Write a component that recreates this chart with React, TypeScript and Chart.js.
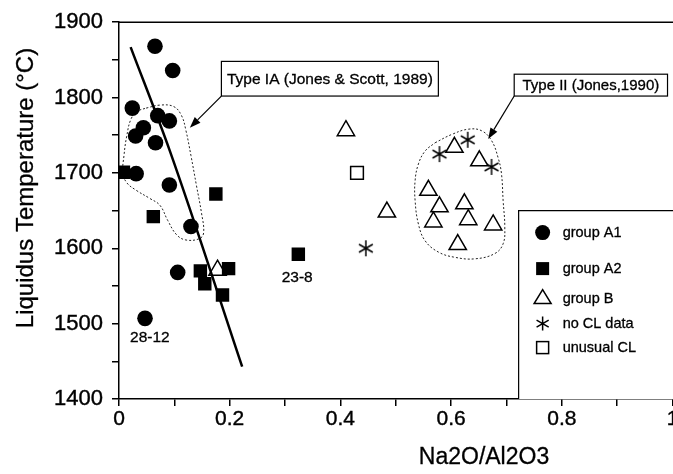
import React, { useEffect, useRef } from 'react';
import { Chart, registerables } from 'chart.js';

Chart.register(...registerables);

// ---- data ----
const a1X = [0.065, 0.097, 0.024, 0.070, 0.091, 0.044, 0.030, 0.066, 0.031, 0.091, 0.130, 0.106, 0.047];
const a1Y = [1868, 1836, 1786, 1776, 1769, 1760, 1749, 1740, 1699, 1684, 1629, 1568, 1507];

const a2X = [0.008, 0.175, 0.062, 0.147, 0.155, 0.198, 0.187, 0.324];
const a2Y = [1701, 1672, 1642, 1570, 1553, 1573, 1538, 1592];

const bX = [0.178, 0.410, 0.484, 0.606, 0.651, 0.559, 0.579, 0.624, 0.568, 0.631, 0.676, 0.612];
const bY = [1571, 1756, 1648, 1734, 1716, 1677, 1655, 1659, 1635, 1638, 1631, 1605];

const noClX = [0.446, 0.579, 0.630, 0.673];
const noClY = [1600, 1725, 1744, 1708];

const unusualX = [0.43];
const unusualY = [1700];

const trendX = [0.021, 0.092, 0.2225];
const trendY = [1867, 1729, 1443];

const typeIAX = [0.049, 0.074, 0.099, 0.113, 0.121, 0.130, 0.140, 0.149, 0.153, 0.146, 0.121, 0.104, 0.088, 0.074, 0.056, 0.031, 0.014, 0.007, 0.009, 0.014, 0.022, 0.034, 0.049];
const typeIAY = [1786, 1790, 1788, 1776, 1756, 1723, 1683, 1647, 1621, 1613, 1611, 1618, 1637, 1657, 1666, 1677, 1687, 1700, 1723, 1749, 1772, 1782, 1786];

const typeIIX = [0.571, 0.601, 0.631, 0.655, 0.673, 0.685, 0.691, 0.694, 0.697, 0.694, 0.679, 0.643, 0.607, 0.577, 0.553, 0.541, 0.535, 0.535, 0.541, 0.553, 0.571];
const typeIIY = [1740, 1751, 1758, 1756, 1743, 1720, 1699, 1663, 1628, 1606, 1593, 1586, 1588, 1595, 1610, 1632, 1663, 1690, 1712, 1729, 1740];

const legendLabels = ['group A1', 'group A2', 'group B', 'no CL data', 'unusual CL'];

const pointLabels = ['28-12', '23-8'];
const pointLabelX = [0.0558, 0.322];
const pointLabelY = [1481, 1561];

const annoTexts = ['Type IA (Jones & Scott, 1989)', 'Type II (Jones,1990)'];

const xTitle = 'Na2O/Al2O3';
const yTitle = 'Liquidus Temperature (°C)';

const FONT = '"Liberation Sans", Arial, Helvetica, sans-serif';

const zip = (xs: number[], ys: number[]) => xs.map((x, i) => ({ x, y: ys[i] }));

function drawAsterisk(ctx: CanvasRenderingContext2D, cx: number, cy: number, r: number) {
  ctx.save();
  ctx.strokeStyle = '#000';
  ctx.lineWidth = 1.5;
  ctx.beginPath();
  for (const deg of [90, 30, 150]) {
    const a = (deg * Math.PI) / 180;
    ctx.moveTo(cx - r * Math.cos(a), cy - r * Math.sin(a));
    ctx.lineTo(cx + r * Math.cos(a), cy + r * Math.sin(a));
  }
  ctx.stroke();
  ctx.restore();
}

function makeAsteriskImage() {
  const c = document.createElement('canvas');
  c.width = 20;
  c.height = 20;
  const g = c.getContext('2d')!;
  drawAsterisk(g, 10, 10, 8);
  return c;
}

function drawArrow(ctx: CanvasRenderingContext2D, x1: number, y1: number, x2: number, y2: number) {
  const ang = Math.atan2(y2 - y1, x2 - x1);
  const L = 11, W = 4;
  ctx.beginPath();
  ctx.moveTo(x1, y1);
  ctx.lineTo(x2 - L * Math.cos(ang), y2 - L * Math.sin(ang));
  ctx.stroke();
  ctx.beginPath();
  ctx.moveTo(x2, y2);
  ctx.lineTo(x2 - L * Math.cos(ang) + W * Math.sin(ang), y2 - L * Math.sin(ang) - W * Math.cos(ang));
  ctx.lineTo(x2 - L * Math.cos(ang) - W * Math.sin(ang), y2 - L * Math.sin(ang) + W * Math.cos(ang));
  ctx.closePath();
  ctx.fill();
}

function boldText(ctx: CanvasRenderingContext2D, s: string, x: number, y: number, w = 0.4) {
  ctx.fillText(s, x, y);
  ctx.save();
  ctx.lineWidth = w;
  ctx.strokeStyle = '#000';
  ctx.strokeText(s, x, y);
  ctx.restore();
}

const overlay = {
  id: 'overlay',
  afterDatasetsDraw(chart: any) {
    const { ctx, chartArea, scales } = chart;
    const xs = scales.x, ys = scales.y;
    const px = (v: number) => xs.getPixelForValue(v);
    const py = (v: number) => ys.getPixelForValue(v);
    ctx.save();
    ctx.strokeStyle = '#000';
    ctx.fillStyle = '#000';
    ctx.lineWidth = 1.5;

    // top frame line
    ctx.beginPath();
    ctx.moveTo(chartArea.left, chartArea.top);
    ctx.lineTo(chart.width, chartArea.top);
    ctx.stroke();

    // annotation boxes
    ctx.lineWidth = 1.2;
    ctx.font = `15.5px ${FONT}`;
    ctx.textBaseline = 'middle';
    ctx.textAlign = 'center';
    // Type IA
    {
      const l = px(0.185), r = px(0.577), t = py(1848), b = py(1802);
      ctx.fillStyle = '#fff';
      ctx.fillRect(l, t, r - l, b - t);
      ctx.fillStyle = '#000';
      ctx.strokeRect(l, t, r - l, b - t);
      boldText(ctx, annoTexts[0], (l + r) / 2, (t + b) / 2 + 1, 0.3);
      drawArrow(ctx, l, b, px(0.128), py(1760));
    }
    // Type II
    {
      const l = px(0.714), r = px(0.991), t = py(1831), b = py(1802);
      ctx.fillStyle = '#fff';
      ctx.fillRect(l, t, r - l, b - t);
      ctx.fillStyle = '#000';
      ctx.strokeRect(l, t, r - l, b - t);
      ctx.font = `15px ${FONT}`;
      boldText(ctx, annoTexts[1], (l + r) / 2, (t + b) / 2 + 1, 0.3);
      drawArrow(ctx, l, b, px(0.667), py(1745));
    }

    // point labels
    ctx.font = `15.5px ${FONT}`;
    pointLabels.forEach((s, i) => boldText(ctx, s, px(pointLabelX[i]), py(pointLabelY[i]), 0.3));

    // legend box
    {
      const l = px(0.722), t = py(1650), b = chartArea.bottom;
      ctx.lineWidth = 1.2;
      ctx.fillStyle = '#fff';
      ctx.fillRect(l, t, chart.width - l, b - t);
      ctx.fillStyle = '#000';
      ctx.beginPath();
      ctx.moveTo(l, b);
      ctx.lineTo(l, t);
      ctx.lineTo(chart.width + 2, t);
      ctx.stroke();
      const mx = l + 24;
      const offs = [22, 58, 88, 113, 137];
      ctx.textAlign = 'left';
      ctx.font = `14.5px ${FONT}`;
      offs.forEach((o, i) => {
        const y = t + o;
        ctx.lineWidth = 1.5;
        if (i === 0) {
          ctx.beginPath();
          ctx.arc(mx, y, 7.5, 0, Math.PI * 2);
          ctx.fill();
        } else if (i === 1) {
          ctx.fillRect(mx - 6.5, y - 6.5, 13, 13);
        } else if (i === 2) {
          ctx.beginPath();
          ctx.moveTo(mx, y - 9);
          ctx.lineTo(mx + 8.5, y + 5);
          ctx.lineTo(mx - 8.5, y + 5);
          ctx.closePath();
          ctx.stroke();
        } else if (i === 3) {
          drawAsterisk(ctx, mx, y, 7);
        } else {
          ctx.strokeRect(mx - 6, y - 6, 12, 12);
        }
        boldText(ctx, legendLabels[i], l + 44, y, 0.3);
      });
    }

    // axis titles
    ctx.textAlign = 'center';
    ctx.font = `23px ${FONT}`;
    boldText(ctx, xTitle, 484, 458, 0.3);
    ctx.save();
    ctx.translate(26, 188);
    ctx.rotate(-Math.PI / 2);
    ctx.font = `24px ${FONT}`;
    boldText(ctx, yTitle, 0, 0, 0.3);
    ctx.restore();

    ctx.restore();
  },
};

export default function App() {
  const ref = useRef<HTMLCanvasElement>(null);
  useEffect(() => {
    const star = makeAsteriskImage();
    const chart = new Chart(ref.current!, {
      type: 'scatter',
      data: {
        datasets: [
          {
            type: 'line',
            label: 'trend',
            data: zip(trendX, trendY),
            borderColor: '#000',
            borderWidth: 2.5,
            pointRadius: 0,
            cubicInterpolationMode: 'monotone',
            order: 0,
          } as any,
          {
            label: 'group A1',
            data: zip(a1X, a1Y),
            pointStyle: 'circle',
            pointRadius: 7.8,
            backgroundColor: '#000',
            borderColor: '#000',
            borderWidth: 0,
            order: 1,
          },
          {
            label: 'group A2',
            data: zip(a2X, a2Y),
            pointStyle: 'rect',
            pointRadius: 9.5,
            backgroundColor: '#000',
            borderColor: '#000',
            borderWidth: 0,
            order: 2,
          },
          {
            label: 'group B',
            data: zip(bX, bY),
            pointStyle: 'triangle',
            pointRadius: 10,
            backgroundColor: '#fff',
            borderColor: '#000',
            borderWidth: 1.5,
            order: 3,
          },
          {
            label: 'no CL data',
            data: zip(noClX, noClY),
            pointStyle: star as any,
            pointRadius: 8,
            order: 3,
          },
          {
            label: 'unusual CL',
            data: zip(unusualX, unusualY),
            pointStyle: 'rect',
            pointRadius: 9,
            backgroundColor: '#fff',
            borderColor: '#000',
            borderWidth: 1.5,
            order: 3,
          },
          {
            type: 'line',
            label: 'Type IA field',
            data: zip(typeIAX, typeIAY),
            borderColor: '#222',
            borderWidth: 1,
            borderDash: [2, 2],
            pointRadius: 0,
            tension: 0.4,
            order: 5,
          } as any,
          {
            type: 'line',
            label: 'Type II field',
            data: zip(typeIIX, typeIIY),
            borderColor: '#222',
            borderWidth: 1,
            borderDash: [2, 2],
            pointRadius: 0,
            tension: 0.4,
            order: 5,
          } as any,
        ],
      },
      options: {
        animation: false,
        responsive: false,
        events: [],
        layout: { padding: { top: 21, right: 9, bottom: 0, left: 0 } },
        plugins: {
          legend: { display: false },
          tooltip: { enabled: false },
          title: { display: false },
        },
        scales: {
          x: {
            type: 'linear',
            min: 0,
            max: 1,
            afterFit: (s: any) => { s.height = 75; },
            grid: { drawOnChartArea: false, drawTicks: true, tickLength: 7, color: '#000', lineWidth: 1.5 },
            border: { display: true, color: '#000', width: 1.5 },
            ticks: {
              stepSize: 0.1,
              autoSkip: false,
              maxRotation: 0,
              padding: 1,
              color: '#000',
              textStrokeColor: '#000',
              textStrokeWidth: 0.4,
              font: { family: FONT, size: 21 },
              callback: (v: any) => {
                const r = Math.round(Number(v) * 10);
                if (r % 2 !== 0) return '';
                return r === 0 ? '0' : r === 10 ? '1' : (r / 10).toFixed(1);
              },
            },
          },
          y: {
            type: 'linear',
            min: 1400,
            max: 1900,
            afterFit: (s: any) => { s.width = 119; },
            grid: { drawOnChartArea: false, drawTicks: true, tickLength: 7, color: '#000', lineWidth: 1.5 },
            border: { display: true, color: '#000', width: 1.5 },
            ticks: {
              stepSize: 50,
              autoSkip: false,
              padding: 9,
              color: '#000',
              textStrokeColor: '#000',
              textStrokeWidth: 0.4,
              font: { family: FONT, size: 22 },
              callback: (v: any) => (Number(v) % 100 === 0 ? String(v) : ''),
            },
          },
        },
      },
      plugins: [overlay],
    });
    return () => chart.destroy();
  }, []);

  return (
    <div style={{ position: 'fixed', left: 0, top: 0, width: 673, height: 474, overflow: 'hidden', background: '#fff' }}>
      <canvas ref={ref} width={684} height={474} style={{ width: 684, height: 474, display: 'block' }} />
    </div>
  );
}
